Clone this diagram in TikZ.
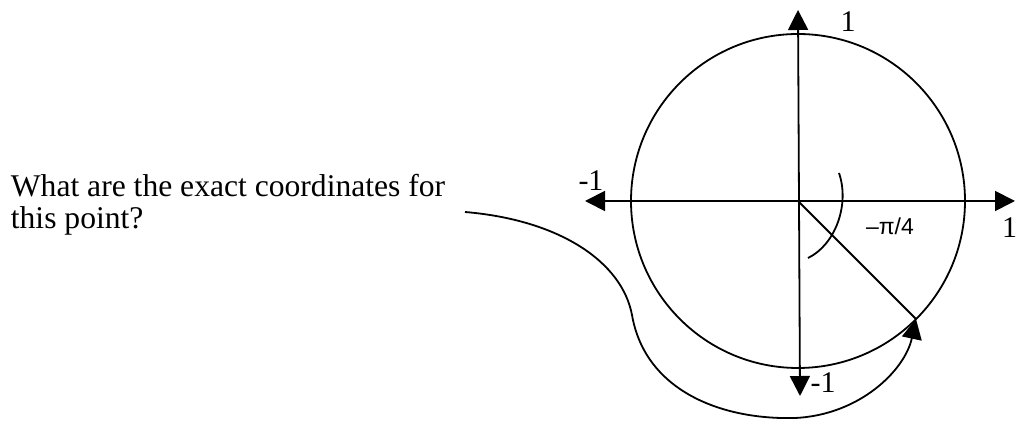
\documentclass[tikz,border=0pt]{standalone}
\usepackage{fontspec}
\setmainfont{Liberation Serif}
\newfontfamily\labelsans{Liberation Sans}
\usetikzlibrary{arrows.meta}

\tikzset{
  axis/.style={{Triangle[length=10pt,width=10pt]}-{Triangle[length=10pt,width=10pt]}},
  lbl/.style={inner sep=0pt, font=\fontsize{15}{14}\selectfont},
}

\begin{document}
\begin{tikzpicture}[x=0.5pt, y=-0.5pt, line width=0.9pt, >={Triangle[length=10pt,width=10pt]}]
  \useasboundingbox (0,0) rectangle (1018,421);
  \coordinate (O) at (798,201);
  \coordinate (P) at (916,319);
  \coordinate (lft) at (585,201);
  \coordinate (rgt) at (1015,201);
  \coordinate (top) at (798,10);
  \coordinate (bot) at (800,396);
  % unit circle and axes
  \draw (O) circle[radius=83.5pt];
  \draw[axis] (lft) -- (rgt);
  \draw[axis] (top) -- (bot);
  \draw (O) -- (P);
  \draw (839,173) .. controls (850,205) and (835,245) .. (808,258);
  % labels
  \node[lbl] (ytop) at (848,22) {1};
  \node[lbl] (xlft) at (591,181) {-1};
  \node[lbl] (ybot) at (823,383) {-1};
  \node[lbl, anchor=east] (xrgt) at (1018,228) {1};
  \node[inner sep=0pt, font=\labelsans\fontsize{11.5}{12}\selectfont] (ang) at (890,226) {–π/4};
  % question and pointer
  \node[lbl, font=\fontsize{15.8}{16}\selectfont, anchor=north west, align=left] (q) at (10,173) {What are the exact coordinates for\\this point?};
  \coordinate (s) at (465,212);
  \draw[->] (s) .. controls (560,220) and (622,262) .. (632,315)
    .. controls (645,390) and (720,420) .. (795,418)
    .. controls (860,415) and (905,370) .. (P);
\end{tikzpicture}
\end{document}
